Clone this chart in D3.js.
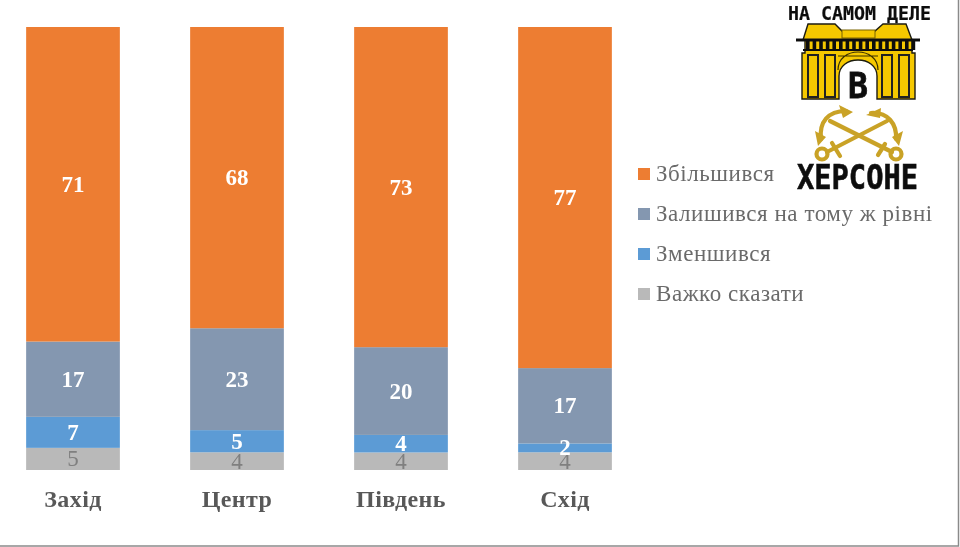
<!DOCTYPE html>
<html><head><meta charset="utf-8">
<script src="https://cdn.jsdelivr.net/npm/d3@7/dist/d3.min.js"></script>
<style>html,body{margin:0;padding:0;background:#fff}svg{display:block}text{font-family:"Liberation Serif",serif}</style>
</head><body><svg id="c" width="960" height="547"></svg>
<script>
const categories=["Захід","Центр","Південь","Схід"];
const seriesNames=["Важко сказати","Зменшився","Залишився на тому ж рівні","Збільшився"];
const hard=[5,4,4,4];
const down=[7,5,4,2];
const same=[17,23,20,17];
const up=[71,68,73,77];
const legendOrder=["Збільшився","Залишився на тому ж рівні","Зменшився","Важко сказати"];
const colors=["#b9b9b9","#5b9bd5","#8497b0","#ed7d31"];
const valuesBySeries=[hard,down,same,up];

const svg=d3.select("#c");
const defs=svg.append("defs");
defs.append("filter").attr("id","soft").append("feGaussianBlur").attr("stdDeviation",0.5);
const root=svg.append("g").attr("filter","url(#soft)");
const rows=categories.map((c,i)=>{const r={c};seriesNames.forEach((s,k)=>r[s]=valuesBySeries[k][i]);return r;});
const stacked=d3.stack().keys(seriesNames).offset(d3.stackOffsetExpand)(rows);
const x=d3.scaleBand().domain(categories).range([-9,647]).paddingInner(0.4286).paddingOuter(0.2143);
const y=d3.scaleLinear().domain([0,1]).range([470,27]);
const color=d3.scaleOrdinal(seriesNames,colors);

const bars=root.append("g"), labels=root.append("g");
stacked.forEach((layer,k)=>{
  bars.append("g").selectAll("rect").data(layer).join("rect")
    .attr("x",d=>x(d.data.c)).attr("width",x.bandwidth())
    .attr("y",d=>y(d[1])).attr("height",d=>y(d[0])-y(d[1]))
    .attr("fill",color(layer.key));
  labels.append("g").selectAll("text").data(layer).join("text")
    .attr("x",d=>x(d.data.c)+x.bandwidth()/2)
    .attr("y",d=>(y(d[0])+y(d[1]))/2+7.5)
    .attr("text-anchor","middle")
    .attr("font-size",23)
    .attr("font-weight",k===0?"normal":"bold")
    .attr("fill",k===0?"#7f7f7f":"#fff")
    .text(d=>d.data[layer.key]);
});

const axis=d3.axisBottom(x).tickSize(0);
const ax=root.append("g").attr("transform","translate(0,470)").call(axis);
ax.select(".domain").remove();
ax.selectAll("text").attr("y",20).attr("dy","0.71em").attr("font-size",24).attr("font-weight","bold").attr("fill","#595959")
  .style("font-family","'Liberation Serif',serif").style("letter-spacing","0.4px");

const ly=d3.scalePoint().domain(legendOrder).range([174,294]);
const lg=root.append("g").selectAll("g").data(legendOrder).join("g").attr("transform",d=>`translate(0,${ly(d)})`);
lg.append("rect").attr("x",638).attr("y",-6).attr("width",12).attr("height",12).attr("fill",d=>color(d));
lg.append("text").attr("x",656).attr("y",7).attr("font-size",23).attr("fill","#6b6b6b").style("letter-spacing","0.55px").text(d=>d);

// logo
const logo=root.append("g");
const lt=(t,xx,yy,s,w,sw)=>logo.append("text").attr("x",xx).attr("y",yy).attr("textLength",w).attr("lengthAdjust","spacingAndGlyphs")
  .attr("font-size",s).attr("font-weight","bold").style("font-family","'DejaVu Sans Mono',monospace").attr("fill","#111").attr("stroke","#111").attr("stroke-width",sw).text(t);
lt("НА САМОМ ДЕЛЕ",788,20,19,143,0.2);
const Y="#f5c800",K="#1c1a10";
logo.append("path").attr("fill",Y).attr("stroke",K).attr("stroke-width",1.4)
  .attr("d","M803 40L808 24H835L842 31H875L883 24H906L912 40V53H915V99H877V76C877 66 868 60 858 60C848 60 839 66 839 76V99H802V53H805V40Z");
logo.append("path").attr("fill","none").attr("stroke","#3a3000").attr("stroke-width",1.2).attr("d","M838 70C838 58 848 52 858 52C868 52 878 58 878 70M838 56H878");
logo.append("rect").attr("x",842).attr("y",30).attr("width",33).attr("height",8).attr("fill",Y).attr("stroke","#7a6500").attr("stroke-width",1);
logo.append("rect").attr("x",796).attr("y",38.5).attr("width",124).attr("height",3).attr("fill","#111");
d3.range(806,914,6.6).forEach(px=>logo.append("rect").attr("x",px).attr("y",40).attr("width",3.6).attr("height",10).attr("fill","#111"));
logo.append("rect").attr("x",803).attr("y",49).attr("width",110).attr("height",2).attr("fill","#111");
[[808,818],[825,835],[882,892],[899,909]].forEach(([a,b])=>logo.append("rect").attr("x",a).attr("y",55).attr("width",b-a).attr("height",42).attr("fill","none").attr("stroke","#222").attr("stroke-width",2));
lt("В",848,98,36,20,0.8);

const gold="#c9a227";
logo.append("g").attr("fill","none").attr("stroke",gold).attr("stroke-width",4.2).attr("stroke-linecap","round").call(g=>{
  g.append("path").attr("d","M827 152L887 121");
  g.append("path").attr("d","M892 152L830 121");
  g.append("path").attr("d","M846 111C828 111 819 122 821 139");
  g.append("path").attr("d","M871 113C888 112 897 124 896 139");
  g.append("circle").attr("cx",822).attr("cy",154).attr("r",5.5);
  g.append("circle").attr("cx",896).attr("cy",154).attr("r",5.5);
  g.append("path").attr("d","M832 143L840 156");
  g.append("path").attr("d","M885 144L878 155");
});
logo.append("path").attr("fill",gold).attr("d","M853 112L839 105L843 118Z M866 115L881 108L880 118Z M815 131L826 137L818 146Z M903 131L892 137L899 146Z");
lt("ХЕРСОНЕ",797,189,33,121,0.6);

// frame
root.append("path").attr("fill","none").attr("stroke","#8a8a8a").attr("stroke-width",1.5).attr("d","M0 546H958.5V0");
</script></body></html>
